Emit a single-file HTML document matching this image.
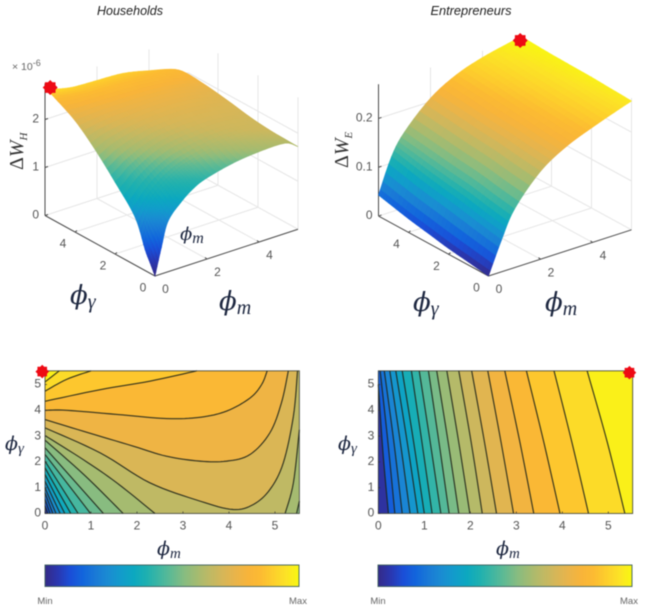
<!DOCTYPE html>
<html lang="en">
<head>
<meta charset="utf-8">
<title>Welfare gains: households and entrepreneurs</title>
<style>
  html, body { margin: 0; padding: 0; background: #fff; }
  #stage { display: block; width: 650px; height: 609px; filter: blur(0.6px); }
  text { font-family: "Liberation Sans", sans-serif; }
  .tick { font-size: 12px; fill: #555; text-anchor: middle; dominant-baseline: middle; }
  .tick-end { font-size: 12px; fill: #555; text-anchor: end; dominant-baseline: middle; }
  .title { font-size: 12.5px; font-style: italic; fill: #222; text-anchor: middle; }
  .math { font-family: "DejaVu Serif", "Liberation Serif", serif; font-style: italic; fill: #1d2740; }
  .sub { font-family: "Liberation Serif", "DejaVu Serif", serif; font-style: italic; }
  .cb { font-size: 9.5px; fill: #666; text-anchor: middle; }
</style>
</head>
<body>
<svg id="stage" xmlns="http://www.w3.org/2000/svg" width="650" height="609" viewBox="0 0 650 609">
  <defs>
    <linearGradient id="cbGrad" x1="0" x2="1" y1="0" y2="0"></linearGradient>
  </defs>
  <rect width="650" height="609" fill="#fff"/>
  <g id="chartRoot"></g>

  <text class="title" x="130" y="15">Households</text>
  <text class="title" x="471" y="15" style="font-size:12.8px">Entrepreneurs</text>

  <text x="12" y="70" style="font-size:10.5px;fill:#666">× 10<tspan dy="-4" font-size="9">-6</tspan></text>

  <text class="sub" transform="translate(23,170) rotate(-90)" style="font-size:20px;fill:#333"><tspan font-style="normal">Δ</tspan>W<tspan dy="4" font-size="11">H</tspan></text>
  <text class="sub" transform="translate(348,168) rotate(-90)" style="font-size:20px;fill:#333"><tspan font-style="normal">Δ</tspan>W<tspan dy="4" font-size="11">E</tspan></text>

  <text class="math" x="180" y="240" style="font-size:18px">ϕ<tspan class="sub" dy="3" font-size="16">m</tspan></text>
  <text class="math" x="70" y="304" style="font-size:26px">ϕ<tspan class="sub" dy="4" font-size="20">γ</tspan></text>
  <text class="math" x="219" y="310" style="font-size:26px">ϕ<tspan class="sub" dy="4" font-size="20">m</tspan></text>
  <text class="math" x="413" y="311" style="font-size:26px">ϕ<tspan class="sub" dy="4" font-size="20">γ</tspan></text>
  <text class="math" x="545" y="311" style="font-size:26px">ϕ<tspan class="sub" dy="4" font-size="20">m</tspan></text>

  <text class="math" x="5" y="450" style="font-size:19px">ϕ<tspan class="sub" dy="3" font-size="15">γ</tspan></text>
  <text class="math" x="157" y="555" style="font-size:19px">ϕ<tspan class="sub" dy="3" font-size="15">m</tspan></text>
  <text class="math" x="338" y="450" style="font-size:19px">ϕ<tspan class="sub" dy="3" font-size="15">γ</tspan></text>
  <text class="math" x="496" y="555" style="font-size:19px">ϕ<tspan class="sub" dy="3" font-size="15">m</tspan></text>

  <text class="cb" x="45" y="604">Min</text>
  <text class="cb" x="298" y="604">Max</text>
  <text class="cb" x="378" y="604">Min</text>
  <text class="cb" x="629" y="604">Max</text>
</svg>

<script>
// ---------- colour map (evenly spaced Min → Max) ----------
const colorMap = ['#352a87','#2a37b0','#1a4fd8','#1266dc','#1a7ad6','#1a8cd2','#129ccb','#0ca8c0','#1eb0b0','#3fb6a2','#62ba92','#88bc80','#a5bb70','#bfb964','#d6b658','#e9b44a','#f8b43a','#fcbb32','#fdcf2c','#fce326','#f8f810'];

// ---------- Households surface (ΔW_H, units of 1e-6) ----------
const householdsPhiM = [0, 0.25, 0.5, 1, 1.5, 2, 3, 4, 5, 5.5];
const householdsPhiGamma = [0, 0.25, 0.5, 1, 2, 3, 4, 5, 5.5];
const householdsSurface = [
  [0.00, 0.56, 1.05, 1.36, 1.57, 1.69, 1.82, 1.88, 1.88, 1.72],
  [0.22, 0.78, 1.12, 1.42, 1.60, 1.72, 1.85, 1.92, 1.90, 1.72],
  [0.44, 0.92, 1.22, 1.50, 1.68, 1.78, 1.90, 1.96, 1.92, 1.72],
  [1.00, 1.20, 1.38, 1.62, 1.78, 1.88, 2.00, 2.03, 1.95, 1.70],
  [1.50, 1.60, 1.72, 1.88, 2.00, 2.07, 2.12, 2.12, 2.00, 1.74],
  [1.95, 2.02, 2.08, 2.15, 2.20, 2.24, 2.27, 2.23, 2.08, 1.82],
  [2.32, 2.33, 2.34, 2.36, 2.36, 2.36, 2.36, 2.30, 2.14, 1.90],
  [2.56, 2.52, 2.49, 2.46, 2.45, 2.44, 2.40, 2.33, 2.18, 1.95],
  [2.67, 2.60, 2.55, 2.49, 2.47, 2.46, 2.43, 2.31, 2.16, 1.97]
];
const householdsZTicks = [0, 1, 2];
const householdsZTickLabels = ['0', '1', '2'];
const householdsPeak = [0.2, 5.5, 2.63];

// ---------- Entrepreneurs surface (ΔW_E) ----------
const entrepreneursPhiM = [0, 0.5, 1, 2, 3, 4, 5, 5.5];
const entrepreneursPhiGamma = [0, 1, 2, 3, 4, 5, 5.5];
const entrepreneursSurface = [
  [0.000, 0.065, 0.120, 0.180, 0.214, 0.236, 0.255, 0.264],
  [0.006, 0.073, 0.127, 0.185, 0.218, 0.240, 0.257, 0.266],
  [0.012, 0.082, 0.135, 0.191, 0.223, 0.243, 0.260, 0.268],
  [0.020, 0.090, 0.140, 0.195, 0.227, 0.246, 0.262, 0.269],
  [0.028, 0.098, 0.146, 0.200, 0.232, 0.250, 0.264, 0.270],
  [0.038, 0.108, 0.152, 0.205, 0.236, 0.254, 0.267, 0.272],
  [0.043, 0.113, 0.155, 0.207, 0.238, 0.256, 0.268, 0.273]
];
const entrepreneursZTicks = [0, 0.1, 0.2];
const entrepreneursZTickLabels = ['0', '0.1', '0.2'];
const entrepreneursPeak = [5.45, 5.5, 0.266];

// ---------- shared axis ticks ----------
const surfaceHorizontalTicks = [0, 2, 4];
const contourTicks = [0, 1, 2, 3, 4, 5];

// ---------- Households contour lines: level (0–1 of range), then [phi_m, phi_gamma] segments ----------
const householdsContourLevels = [0.08, 0.13, 0.18, 0.23, 0.28, 0.33, 0.38, 0.43, 0.48, 0.52, 0.57, 0.62, 0.68, 0.74, 0.80, 0.85, 0.90, 0.95];
const householdsContourLines = [
  [[[0,0.30],[0.06,0]]],
  [[[0,0.55],[0.11,0]]],
  [[[0,0.80],[0.17,0]]],
  [[[0,1.00],[0.24,0]]],
  [[[0,1.25],[0.33,0]]],
  [[[0,1.51],[0.43,0]]],
  [[[0,1.77],[0.56,0]]],
  [[[0,2.03],[0.72,0]]],
  [[[0,2.29],[0.99,0]]],
  [[[0,2.55],[1.27,0]]],
  [[[0,2.84],[0.85,1.5],[1.70,0]], [[5.47,0],[5.53,0.48]]],
  [[[0,3.02],[0.83,2.09],[1.56,1.19],[2.39,0]], [[5.22,0],[5.40,1.19],[5.53,3.25]]],
  [[[0,3.32],[1.20,2.35],[2.28,1.19],[3.37,0.48],[4.09,0.155],[4.53,0.35],[4.89,0.93],[5.18,1.96],[5.40,3.77],[5.49,5.53]]],
  [[[0,3.64],[0.83,3.19],[1.92,2.61],[2.64,2.22],[3.37,2.03],[3.95,2.03],[4.46,2.29],[4.89,3.13],[5.14,4.29],[5.29,5.53]]],
  [[[0,4.00],[0.47,4.00],[1.56,3.84],[2.64,3.68],[3.37,3.73],[3.95,3.97],[4.46,4.48],[4.71,5.00],[4.83,5.53]]],
  [[[0,4.35],[1.20,4.80],[2.28,5.13],[3.30,5.53]]],
  [[[0,4.74],[0.47,5.20],[1.00,5.53]]],
  [[[0,5.10],[0.31,5.53]]]
];

// ---------- Entrepreneurs contour lines ----------
const entrepreneursContourLevels = [0.10, 0.15, 0.20, 0.25, 0.30, 0.35, 0.40, 0.45, 0.50, 0.55, 0.60, 0.65, 0.70, 0.75, 0.80, 0.85, 0.90, 0.95];
const entrepreneursContourLines = [
  [[[0.22,0],[0.10,2.4],[0,5.0]]],
  [[[0.36,0],[0.21,2.75],[0.04,5.53]]],
  [[[0.52,0],[0.34,2.75],[0.13,5.53]]],
  [[[0.69,0],[0.48,2.75],[0.25,5.53]]],
  [[[0.86,0],[0.63,2.75],[0.38,5.53]]],
  [[[1.00,0],[0.77,2.75],[0.52,5.53]]],
  [[[1.17,0],[0.95,2.75],[0.72,5.53]]],
  [[[1.36,0],[1.13,2.75],[0.89,5.53]]],
  [[[1.54,0],[1.32,2.75],[1.09,5.53]]],
  [[[1.75,0],[1.52,2.75],[1.27,5.53]]],
  [[[1.99,0],[1.75,2.75],[1.49,5.53]]],
  [[[2.26,0],[2.02,2.75],[1.75,5.53]]],
  [[[2.57,0],[2.31,2.75],[2.03,5.53]]],
  [[[2.94,0],[2.67,2.75],[2.38,5.53]]],
  [[[3.38,0],[3.08,2.75],[2.75,5.53]]],
  [[[3.95,0],[3.60,2.75],[3.22,5.53]]],
  [[[4.57,0],[4.21,2.75],[3.82,5.53]]],
  [[[5.36,0],[4.98,2.75],[4.54,5.53]]]
];

// ---------- helpers ----------
const SVG_NS = 'http://www.w3.org/2000/svg';
const root = document.getElementById('chartRoot');

function parseHex(h) {
  return [parseInt(h.slice(1, 3), 16), parseInt(h.slice(3, 5), 16), parseInt(h.slice(5, 7), 16)];
}
const colorRgb = colorMap.map(parseHex);
function colorAt(t) {
  const c = Math.max(0, Math.min(1, t)) * (colorRgb.length - 1);
  const i = Math.min(colorRgb.length - 2, Math.floor(c));
  const f = c - i;
  const a = colorRgb[i], b = colorRgb[i + 1];
  return 'rgb(' + [0, 1, 2].map(k => Math.round(a[k] + (b[k] - a[k]) * f)).join(',') + ')';
}
function addEl(parent, tag, attrs, text) {
  const el = document.createElementNS(SVG_NS, tag);
  for (const k in attrs) el.setAttribute(k, attrs[k]);
  if (text !== undefined) el.textContent = text;
  parent.appendChild(el);
  return el;
}
function addGroup(parent, name) {
  const g = document.createElementNS(SVG_NS, 'g');
  
  
  parent.appendChild(g);
  return g;
}
function catmull(a, b, c, d, f) {
  return 0.5 * (2 * b + (c - a) * f + (2 * a - 5 * b + 4 * c - d) * f * f + (3 * b - a - 3 * c + d) * f * f * f);
}
function resample(arr, n) {
  const out = [];
  for (let i = 0; i < arr.length - 1; i++) {
    const p0 = arr[Math.max(0, i - 1)], p1 = arr[i], p2 = arr[i + 1], p3 = arr[Math.min(arr.length - 1, i + 2)];
    for (let s = 0; s < n; s++) out.push(catmull(p0, p1, p2, p3, s / n));
  }
  out.push(arr[arr.length - 1]);
  return out;
}
function smoothLine(pts) {
  if (pts.length < 3) return pts.slice();
  const xs = resample(pts.map(p => p[0]), 8);
  const ys = resample(pts.map(p => p[1]), 8);
  return xs.map((x, i) => [x, ys[i]]);
}
function pathOf(pts, close) {
  return 'M' + pts.map(p => p[0].toFixed(2) + ' ' + p[1].toFixed(2)).join('L') + (close ? 'Z' : '');
}
function starPoints(cx, cy, R, r) {
  const out = [];
  for (let i = 0; i < 16; i++) {
    const a = Math.PI * i / 8 - Math.PI / 2;
    const q = i % 2 ? r : R;
    out.push((cx + q * Math.cos(a)).toFixed(2) + ',' + (cy + q * Math.sin(a)).toFixed(2));
  }
  return out.join(' ');
}

// The households surface in the picture is shaded in near-horizontal bands on
// screen (its colour follows apparent height rather than z alone).
function householdsTone(x, y) {
  const knotsY = [276, 262, 250, 240, 225, 210, 195, 180, 165, 150, 125, 100, 78, 70, 60, 50];
  const knotsT = [0, 0.05, 0.1, 0.15, 0.22, 0.3, 0.37, 0.42, 0.5, 0.6, 0.7, 0.77, 0.85, 0.89, 0.97, 1];
  const w = Math.max(0, Math.min(1, (130 - y) / 40));
  const yy = y + w * (-27 + (x - 50) * 0.3);
  if (yy >= knotsY[0]) return 0;
  for (let i = 1; i < knotsY.length; i++) {
    if (yy >= knotsY[i]) {
      return knotsT[i - 1] + (knotsT[i] - knotsT[i - 1]) * (knotsY[i - 1] - yy) / (knotsY[i - 1] - knotsY[i]);
    }
  }
  return 1;
}

// ---------- 3-D surface ----------
function drawSurface(name, box, mVals, gVals, zGrid, zTicks, zLabels, peak, tone) {
  const g = addGroup(root, name + '-surface-plot');
  const project = (m, gam, z) => [
    box.ox + box.mdx * m + box.gdx * gam,
    box.oy + box.mdy * m + box.gdy * gam - box.zs * z
  ];
  const mEnd = 5.5, gEnd = 5.5;
  const gridColor = '#e6e6e6';
  const gridGroup = addGroup(g, name + '-grid');
  function gridLine(a, b) {
    const l = addEl(gridGroup, 'line', { x1: a[0], y1: a[1], x2: b[0], y2: b[1], stroke: gridColor, 'stroke-width': 1 });
    
    
  }
  surfaceHorizontalTicks.forEach(t => {
    if (t > 0) {
      gridLine(project(t, 0, 0), project(t, gEnd, 0));
      gridLine(project(0, t, 0), project(mEnd, t, 0));
      gridLine(project(t, gEnd, 0), project(t, gEnd, box.zTop));
      gridLine(project(mEnd, t, 0), project(mEnd, t, box.zTop));
    }
  });
  gridLine(project(mEnd, 0, 0), project(mEnd, gEnd, 0));
  gridLine(project(0, gEnd, 0), project(mEnd, gEnd, 0));
  gridLine(project(mEnd, 0, 0), project(mEnd, 0, box.zTop));
  zTicks.forEach(z => {
    if (z > 0) {
      gridLine(project(0, gEnd, z), project(mEnd, gEnd, z));
      gridLine(project(mEnd, gEnd, z), project(mEnd, 0, z));
    }
  });

  const axisColor = '#4a4a4a';
  const axisGroup = addGroup(g, name + '-axes');
  function axisLine(a, b, width) {
    const l = addEl(axisGroup, 'line', { x1: a[0], y1: a[1], x2: b[0], y2: b[1], stroke: axisColor, 'stroke-width': width });
    
    
  }
  axisLine(project(0, 0, 0), project(mEnd, 0, 0), 1);
  axisLine(project(0, 0, 0), project(0, gEnd, 0), 1);
  axisLine(project(0, gEnd, 0), project(0, gEnd, box.zTop), 1);

  surfaceHorizontalTicks.forEach(t => {
    const pm = project(t, 0, 0);
    const tm = addEl(axisGroup, 'text', { class: 'tick', x: pm[0] + 10.5, y: pm[1] + 14 }, String(t));
    
    
    const pg = project(0, t, 0);
    const tg = addEl(axisGroup, 'text', { class: 'tick', x: pg[0] - 12, y: pg[1] + 12.5 }, String(t));
    
    
    if (t > 0) {
      const a = project(t, 0, 0), b = project(0, t, 0);
      axisLine(a, [a[0] - 2, a[1] - 1.5], 1);
      axisLine(b, [b[0] + 2, b[1] - 1.5], 1);
    }
  });
  zTicks.forEach((z, i) => {
    const p = project(0, gEnd, z);
    const t = addEl(axisGroup, 'text', { class: 'tick-end', x: p[0] - 6, y: p[1] }, zLabels[i]);
    
    
    axisLine(p, [p[0] + 3, p[1] - 1], 1);
  });

  // refine the read grid at draw time so the facets are invisible
  const N = 5;
  const mFine = resample(mVals, N);
  const gFine = resample(gVals, N);
  const rowsFine = zGrid.map(r => resample(r, N));
  const colsFine = mFine.map((_, c) => resample(rowsFine.map(r => r[c]), N));
  const zMax = Math.max.apply(null, zGrid.map(r => Math.max.apply(null, r)));
  const surf = addGroup(g, name + '-surface');
  for (let j = gFine.length - 2; j >= 0; j--) {
    for (let i = mFine.length - 2; i >= 0; i--) {
      const z00 = Math.max(0, colsFine[i][j]), z10 = Math.max(0, colsFine[i + 1][j]);
      const z01 = Math.max(0, colsFine[i][j + 1]), z11 = Math.max(0, colsFine[i + 1][j + 1]);
      const pts = [project(mFine[i], gFine[j], z00), project(mFine[i + 1], gFine[j], z10), project(mFine[i + 1], gFine[j + 1], z11), project(mFine[i], gFine[j + 1], z01)];
      const cx = (pts[0][0] + pts[1][0] + pts[2][0] + pts[3][0]) / 4;
      const cy = (pts[0][1] + pts[1][1] + pts[2][1] + pts[3][1]) / 4;
      const t = tone ? tone(cx, cy) : (z00 + z10 + z01 + z11) / 4 / zMax;
      const col = colorAt(t);
      const poly = addEl(surf, 'polygon', { points: pts.map(p => p[0].toFixed(2) + ',' + p[1].toFixed(2)).join(' '), fill: col, stroke: col, 'stroke-width': 0.6 });
      
      
    }
  }
  const mk = project(peak[0], peak[1], peak[2]);
  const star = addEl(g, 'polygon', { points: starPoints(mk[0], mk[1], 7.5, 5.8), fill: '#ee0a14' });
  
  
}

// ---------- filled contour ----------
function drawContour(name, box, levels, lines, closeRegion, marker) {
  const g = addGroup(root, name + '-contour-plot');
  const xMax = 5.53, yMax = 5.53;
  const sx = m => box.x0 + m * 46;
  const sy = v => box.y0 - v * 25.8;
  const toPx = p => [sx(p[0]), sy(p[1])];
  const bg = addEl(g, 'rect', { x: sx(0), y: sy(yMax), width: sx(xMax) - sx(0), height: sy(0) - sy(yMax), fill: colorAt(0.03) });
  
  
  const corners = { tl: [0, yMax], tr: [xMax, yMax], br: [xMax, 0], bl: [0, 0] };
  lines.forEach((segments, k) => {
    let pts = [];
    segments.forEach(seg => { pts = pts.concat(smoothLine(seg)); });
    const last = pts[pts.length - 1];
    const closure = closeRegion(last, corners);
    const band = addEl(g, 'path', { d: pathOf(pts.concat(closure).map(toPx), true), fill: colorAt(levels[k] + 0.03) });
    
    
  });
  lines.forEach(segments => {
    segments.forEach(seg => {
      const l = addEl(g, 'path', { d: pathOf(smoothLine(seg).map(toPx), false), fill: 'none', stroke: '#1e2418', 'stroke-opacity': 0.9, 'stroke-width': 1.15 });
      
      
    });
  });
  const frame = addEl(g, 'rect', { x: sx(0), y: sy(yMax), width: sx(xMax) - sx(0), height: sy(0) - sy(yMax), fill: 'none', stroke: '#3a3f35', 'stroke-width': 0.8 });
  
  
  contourTicks.forEach(t => {
    const tx = addEl(g, 'text', { class: 'tick', x: sx(t), y: sy(0) + 13 }, String(t));
    
    
    const ty = addEl(g, 'text', { class: 'tick-end', x: sx(0) - 4, y: sy(t) }, String(t));
    
    
    const a = addEl(g, 'line', { x1: sx(t), x2: sx(t), y1: sy(0), y2: sy(0) - 2, stroke: '#333', 'stroke-width': 0.7 });
    
    
    const b = addEl(g, 'line', { x1: sx(0), x2: sx(0) + 2, y1: sy(t), y2: sy(t), stroke: '#333', 'stroke-width': 0.7 });
    
    
  });
  const star = addEl(g, 'polygon', { points: starPoints(sx(marker[0]), sy(marker[1]), 6.8, 5.2), fill: '#ee0a14' });
  
  
}

// regions above a level contain the top-left corner for households, the right side for entrepreneurs
function closeHouseholds(last, c) {
  if (last[1] <= 0.001) return [c.br, c.tr, c.tl];
  if (last[1] >= c.tr[1] - 0.001) return [c.tl];
  return [c.tr, c.tl];
}
function closeEntrepreneurs(last, c) {
  if (last[0] <= 0.001) return [c.tl, c.tr, c.br];
  return [c.tr, c.br];
}

// ---------- colour bars ----------
const grad = document.getElementById('cbGrad');
colorMap.forEach((c, i) => {
  addEl(grad, 'stop', { offset: (i / (colorMap.length - 1) * 100) + '%', 'stop-color': c });
});
function drawColorbar(name, x, w) {
  const r = addEl(root, 'rect', { x: x, y: 565, width: w, height: 21.5, fill: 'url(#cbGrad)', stroke: '#3c5f5c', 'stroke-width': 0.9 });
  
  
}

// ---------- build ----------
drawSurface('households',
  { ox: 155, oy: 276, mdx: 26, mdy: -8.5, gdx: -20, gdy: -11, zs: 48, zTop: 2.75 },
  householdsPhiM, householdsPhiGamma, householdsSurface, householdsZTicks, householdsZTickLabels, householdsPeak, householdsTone);
drawSurface('entrepreneurs',
  { ox: 488.5, oy: 276, mdx: 26, mdy: -8.4, gdx: -20, gdy: -10.9, zs: 488, zTop: 0.27 },
  entrepreneursPhiM, entrepreneursPhiGamma, entrepreneursSurface, entrepreneursZTicks, entrepreneursZTickLabels, entrepreneursPeak, null);
drawContour('households', { x0: 45, y0: 513.5 }, householdsContourLevels, householdsContourLines, closeHouseholds, [-0.06, 5.5]);
drawContour('entrepreneurs', { x0: 378.3, y0: 513.5 }, entrepreneursContourLevels, entrepreneursContourLines, closeEntrepreneurs, [5.46, 5.46]);
drawColorbar('households', 45, 254);
drawColorbar('entrepreneurs', 378, 254);
</script>
</body>
</html>
